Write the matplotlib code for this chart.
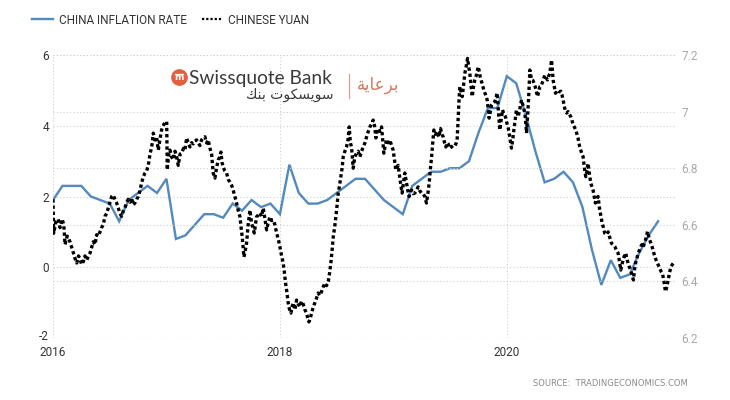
"""China inflation rate vs Chinese yuan, 2016 - mid 2021."""

import matplotlib
matplotlib.use("Agg")
import matplotlib.pyplot as plt
from matplotlib.lines import Line2D
from matplotlib.transforms import ScaledTranslation

# China CPI, % y/y, monthly from Jan 2016 to May 2021
inflation = [
    1.9, 2.3, 2.3, 2.3, 2.0, 1.9, 1.8, 1.3, 1.9, 2.1, 2.3, 2.1,
    2.5, 0.8, 0.9, 1.2, 1.5, 1.5, 1.4, 1.8, 1.6, 1.9, 1.7, 1.8,
    1.5, 2.9, 2.1, 1.8, 1.8, 1.9, 2.1, 2.3, 2.5, 2.5, 2.2, 1.9,
    1.7, 1.5, 2.3, 2.5, 2.7, 2.7, 2.8, 2.8, 3.0, 3.8, 4.5, 4.5,
    5.4, 5.2, 4.3, 3.3, 2.4, 2.5, 2.7, 2.4, 1.7, 0.5, -0.5, 0.2,
    -0.3, -0.2, 0.4, 0.9, 1.3,
]
infl_start = 2016.0

# USD/CNY (decimal year, rate)
yuan_t = [
    2016.000, 2016.006, 2016.025, 2016.045, 2016.062, 2016.080, 2016.095, 2016.106, 2016.125, 2016.150,
    2016.165, 2016.179, 2016.195, 2016.209, 2016.225, 2016.238, 2016.252, 2016.267, 2016.282, 2016.297,
    2016.312, 2016.326, 2016.340, 2016.355, 2016.370, 2016.385, 2016.400, 2016.414, 2016.428, 2016.443,
    2016.458, 2016.473, 2016.488, 2016.502, 2016.517, 2016.531, 2016.546, 2016.561, 2016.575, 2016.590,
    2016.605, 2016.620, 2016.634, 2016.650, 2016.663, 2016.680, 2016.693, 2016.707, 2016.722, 2016.737,
    2016.752, 2016.766, 2016.781, 2016.796, 2016.811, 2016.825, 2016.840, 2016.855, 2016.870, 2016.884,
    2016.898, 2016.913, 2016.928, 2016.942, 2016.957, 2016.972, 2016.987, 2017.002, 2017.007, 2017.020,
    2017.031, 2017.045, 2017.060, 2017.075, 2017.090, 2017.104, 2017.120, 2017.134, 2017.150, 2017.163,
    2017.178, 2017.192, 2017.207, 2017.222, 2017.236, 2017.250, 2017.266, 2017.280, 2017.295, 2017.310,
    2017.324, 2017.339, 2017.354, 2017.368, 2017.383, 2017.398, 2017.412, 2017.427, 2017.441, 2017.456,
    2017.470, 2017.480, 2017.490, 2017.500, 2017.515, 2017.530, 2017.545, 2017.559, 2017.574, 2017.588,
    2017.603, 2017.618, 2017.633, 2017.648, 2017.658, 2017.668, 2017.683, 2017.695, 2017.706, 2017.720,
    2017.736, 2017.750, 2017.762, 2017.774, 2017.784, 2017.794, 2017.810, 2017.824, 2017.838, 2017.853,
    2017.868, 2017.883, 2017.898, 2017.912, 2017.927, 2017.941, 2017.956, 2017.971, 2017.985, 2018.000,
    2018.015, 2018.029, 2018.040, 2018.050, 2018.062, 2018.073, 2018.085, 2018.097, 2018.107, 2018.117,
    2018.132, 2018.147, 2018.162, 2018.176, 2018.190, 2018.205, 2018.220, 2018.235, 2018.245, 2018.256,
    2018.268, 2018.279, 2018.294, 2018.308, 2018.322, 2018.337, 2018.352, 2018.367, 2018.381, 2018.396,
    2018.411, 2018.426, 2018.438, 2018.449, 2018.460, 2018.470, 2018.482, 2018.493, 2018.504, 2018.514,
    2018.526, 2018.537, 2018.548, 2018.558, 2018.573, 2018.587, 2018.600, 2018.611, 2018.621, 2018.631,
    2018.646, 2018.660, 2018.675, 2018.690, 2018.705, 2018.720, 2018.734, 2018.750, 2018.764, 2018.779,
    2018.793, 2018.808, 2018.822, 2018.834, 2018.846, 2018.856, 2018.866, 2018.881, 2018.896, 2018.906,
    2018.916, 2018.928, 2018.940, 2018.955, 2018.969, 2018.984, 2018.998, 2019.010, 2019.022, 2019.032,
    2019.042, 2019.052, 2019.063, 2019.070, 2019.077, 2019.090, 2019.101, 2019.116, 2019.128, 2019.139,
    2019.150, 2019.160, 2019.175, 2019.189, 2019.204, 2019.218, 2019.233, 2019.248, 2019.262, 2019.277,
    2019.292, 2019.304, 2019.316, 2019.327, 2019.337, 2019.347, 2019.357, 2019.372, 2019.386, 2019.401,
    2019.416, 2019.428, 2019.439, 2019.451, 2019.463, 2019.475, 2019.483, 2019.498, 2019.513, 2019.527,
    2019.542, 2019.555, 2019.562, 2019.568, 2019.574, 2019.580, 2019.586, 2019.597, 2019.607, 2019.618,
    2019.630, 2019.642, 2019.654, 2019.664, 2019.674, 2019.685, 2019.695, 2019.707, 2019.718, 2019.733,
    2019.748, 2019.758, 2019.768, 2019.782, 2019.797, 2019.812, 2019.827, 2019.836, 2019.844, 2019.855,
    2019.865, 2019.880, 2019.894, 2019.905, 2019.915, 2019.926, 2019.938, 2019.950, 2019.962, 2019.975,
    2019.988, 2020.000, 2020.011, 2020.026, 2020.041, 2020.052, 2020.062, 2020.073, 2020.085, 2020.100,
    2020.115, 2020.129, 2020.144, 2020.159, 2020.167, 2020.174, 2020.181, 2020.188, 2020.196, 2020.203,
    2020.218, 2020.230, 2020.241, 2020.256, 2020.270, 2020.281, 2020.291, 2020.301, 2020.311, 2020.323,
    2020.335, 2020.347, 2020.358, 2020.369, 2020.379, 2020.387, 2020.394, 2020.401, 2020.408, 2020.418,
    2020.429, 2020.440, 2020.452, 2020.464, 2020.476, 2020.486, 2020.496, 2020.506, 2020.517, 2020.528,
    2020.540, 2020.552, 2020.564, 2020.574, 2020.584, 2020.596, 2020.608, 2020.618, 2020.628, 2020.640,
    2020.652, 2020.662, 2020.672, 2020.684, 2020.696, 2020.706, 2020.716, 2020.728, 2020.740, 2020.750,
    2020.760, 2020.770, 2020.781, 2020.792, 2020.804, 2020.812, 2020.819, 2020.830, 2020.840, 2020.852,
    2020.863, 2020.878, 2020.893, 2020.908, 2020.922, 2020.937, 2020.952, 2020.966, 2020.981, 2020.993,
    2021.004, 2021.015, 2021.025, 2021.036, 2021.048, 2021.058, 2021.069, 2021.081, 2021.093, 2021.105,
    2021.116, 2021.125, 2021.134, 2021.146, 2021.157, 2021.169, 2021.181, 2021.191, 2021.201, 2021.212,
    2021.222, 2021.231, 2021.240, 2021.250, 2021.260, 2021.270, 2021.280, 2021.292, 2021.304, 2021.316,
    2021.328, 2021.338, 2021.348, 2021.360, 2021.372, 2021.385, 2021.398, 2021.410, 2021.422, 2021.434,
    2021.446, 2021.460, 2021.470, 2021.482,
]
yuan_v = [
    6.690, 6.570, 6.610, 6.620, 6.590, 6.620, 6.600, 6.530, 6.560, 6.540,
    6.520, 6.500, 6.480, 6.465, 6.490, 6.480, 6.460, 6.470, 6.490, 6.475,
    6.490, 6.500, 6.520, 6.540, 6.530, 6.565, 6.560, 6.575, 6.590, 6.600,
    6.630, 6.640, 6.660, 6.680, 6.700, 6.705, 6.690, 6.677, 6.660, 6.640,
    6.630, 6.650, 6.660, 6.680, 6.690, 6.680, 6.695, 6.670, 6.677, 6.690,
    6.700, 6.720, 6.748, 6.770, 6.783, 6.790, 6.810, 6.850, 6.875, 6.924,
    6.900, 6.910, 6.864, 6.900, 6.935, 6.950, 6.963, 6.965, 6.794, 6.850,
    6.864, 6.840, 6.830, 6.860, 6.840, 6.810, 6.850, 6.853, 6.870, 6.864,
    6.907, 6.890, 6.875, 6.890, 6.886, 6.895, 6.900, 6.890, 6.880, 6.900,
    6.907, 6.911, 6.889, 6.900, 6.871, 6.850, 6.783, 6.765, 6.800, 6.829,
    6.840, 6.857, 6.820, 6.804, 6.790, 6.783, 6.760, 6.751, 6.740, 6.723,
    6.700, 6.677, 6.650, 6.628, 6.590, 6.557, 6.486, 6.510, 6.535, 6.600,
    6.652, 6.606, 6.590, 6.571, 6.600, 6.628, 6.635, 6.642, 6.630, 6.659,
    6.620, 6.582, 6.610, 6.628, 6.615, 6.617, 6.600, 6.571, 6.550, 6.522,
    6.490, 6.465, 6.430, 6.394, 6.360, 6.324, 6.300, 6.288, 6.310, 6.324,
    6.300, 6.334, 6.320, 6.310, 6.330, 6.320, 6.300, 6.288, 6.270, 6.257,
    6.270, 6.288, 6.310, 6.324, 6.340, 6.359, 6.350, 6.364, 6.380, 6.394,
    6.385, 6.400, 6.430, 6.465, 6.510, 6.557, 6.590, 6.628, 6.670, 6.712,
    6.740, 6.769, 6.800, 6.840, 6.860, 6.875, 6.900, 6.946, 6.890, 6.875,
    6.800, 6.840, 6.853, 6.860, 6.840, 6.860, 6.875, 6.890, 6.911, 6.930,
    6.946, 6.955, 6.970, 6.950, 6.907, 6.930, 6.940, 6.930, 6.946, 6.900,
    6.853, 6.880, 6.900, 6.890, 6.900, 6.880, 6.864, 6.830, 6.794, 6.800,
    6.810, 6.780, 6.748, 6.730, 6.712, 6.750, 6.783, 6.748, 6.720, 6.700,
    6.715, 6.723, 6.710, 6.712, 6.720, 6.734, 6.720, 6.712, 6.710, 6.700,
    6.677, 6.710, 6.748, 6.800, 6.840, 6.890, 6.935, 6.920, 6.930, 6.910,
    6.940, 6.920, 6.911, 6.890, 6.875, 6.890, 6.886, 6.870, 6.875, 6.880,
    6.878, 6.890, 6.900, 6.950, 7.006, 7.050, 7.088, 7.070, 7.053, 7.090,
    7.135, 7.160, 7.188, 7.160, 7.135, 7.090, 7.053, 7.090, 7.112, 7.130,
    7.159, 7.140, 7.117, 7.100, 7.076, 7.060, 7.041, 7.010, 6.977, 7.000,
    7.023, 7.030, 7.035, 7.050, 7.066, 7.000, 6.935, 6.970, 7.006, 6.990,
    6.982, 6.960, 6.946, 6.910, 6.871, 6.900, 6.935, 6.970, 7.006, 6.982,
    7.010, 7.041, 7.020, 6.994, 6.960, 6.924, 6.970, 7.017, 7.080, 7.147,
    7.112, 7.110, 7.100, 7.080, 7.053, 7.070, 7.088, 7.090, 7.100, 7.115,
    7.129, 7.120, 7.112, 7.125, 7.135, 7.160, 7.182, 7.150, 7.112, 7.090,
    7.065, 7.070, 7.076, 7.070, 7.072, 7.060, 7.041, 7.020, 7.000, 6.995,
    7.000, 6.990, 6.982, 6.970, 6.953, 6.945, 6.935, 6.920, 6.906, 6.880,
    6.864, 6.850, 6.841, 6.800, 6.770, 6.790, 6.817, 6.780, 6.747, 6.735,
    6.723, 6.700, 6.677, 6.690, 6.700, 6.675, 6.652, 6.630, 6.606, 6.590,
    6.570, 6.565, 6.575, 6.555, 6.535, 6.530, 6.523, 6.510, 6.500, 6.470,
    6.440, 6.460, 6.476, 6.490, 6.500, 6.480, 6.464, 6.450, 6.440, 6.420,
    6.405, 6.440, 6.464, 6.480, 6.500, 6.510, 6.523, 6.530, 6.520, 6.535,
    6.546, 6.560, 6.576, 6.560, 6.546, 6.535, 6.523, 6.505, 6.488, 6.475,
    6.464, 6.455, 6.446, 6.435, 6.428, 6.400, 6.364, 6.380, 6.405, 6.430,
    6.452, 6.460, 6.465, 6.470,
]

left_ticks = [-2, 0, 2, 4, 6]
right_ticks = [6.2, 6.4, 6.6, 6.8, 7.0, 7.2]
right_labels = ["6.2", "6.4", "6.6", "6.8", "7", "7.2"]
year_ticks = [2016, 2018, 2020]

BLUE = "#5289be"
GRID = "#cfcfcf"
FONT = ["Roboto", "DejaVu Sans"]

plt.rcParams["font.family"] = FONT

infl_t = [infl_start + i / 12 for i in range(len(inflation))]

fig = plt.figure(figsize=(7.3, 4), dpi=100)
ax = fig.add_axes([53 / 730, 62 / 400, 624 / 730, 283 / 400])
ax2 = ax.twinx()

ax.plot(infl_t, inflation, color=BLUE, lw=1.7, solid_joinstyle="miter")
ax2.plot(yuan_t, yuan_v, color="black", lw=2.4, linestyle=(0, (1, 0.85)))

ax.set_xlim(2016.0, 2021.5)
ax.set_ylim(-2, 6)
ax2.set_ylim(6.2, 7.2)

ax.set_xticks(year_ticks)
ax.set_xticklabels([str(y) for y in year_ticks])
ax.set_yticks(left_ticks)
ax.set_yticklabels([str(v) for v in left_ticks])
ax2.set_yticks(right_ticks)
ax2.set_yticklabels(right_labels)

ax.tick_params(axis="both", length=0, labelsize=8.5, colors="#333333")
ax.tick_params(axis="x", pad=6)
ax.tick_params(axis="y", pad=3)
ax2.tick_params(axis="y", length=0, labelsize=8.5, colors="#a8a8a8", pad=3)

# nudge the bottom left label up a touch so it clears the first year label
lab = ax.get_yticklabels()[0]
lab.set_transform(lab.get_transform() + ScaledTranslation(0, 2.5 / 72, fig.dpi_scale_trans))

for a in (ax, ax2):
    for s in a.spines.values():
        s.set_visible(False)

grid_kw = dict(color=GRID, lw=0.8, linestyle=(0, (1, 2)))
ax.grid(True, axis="both", **grid_kw)
ax2.grid(True, axis="y", **grid_kw)
ax.set_axisbelow(True)

# legend
handles = [
    Line2D([], [], color=BLUE, lw=1.7),
    Line2D([], [], color="black", lw=1.6, linestyle=(0, (1, 0.9))),
]
fig.legend(handles, ["CHINA INFLATION RATE", "CHINESE YUAN"], loc="center left",
           bbox_to_anchor=(32 / 730, 1 - 20 / 400), ncol=2, frameon=False,
           fontsize=8.5, handlelength=1.75, handletextpad=0.5, columnspacing=1.3,
           borderpad=0, borderaxespad=0, labelcolor="#333333")

# sponsor logo
fig.add_artist(Line2D([179 / 730], [1 - 77 / 400], marker="o", markersize=11,
                      color="#e2603f", transform=fig.transFigure))
fig.text(179 / 730, 1 - 78 / 400, "m", color="white", fontsize=6.5, weight="bold",
         ha="center", va="center", family="DejaVu Sans")
fig.add_artist(Line2D([175 / 730, 183 / 730], [1 - 73.5 / 400] * 2, color="white",
                      lw=0.9, transform=fig.transFigure))
fig.text(189 / 730, 1 - 84 / 400, "Swissquote Bank", color="#3a3a3a", fontsize=13.8,
         family="Lato", va="baseline")
fig.text(334 / 730, 1 - 95 / 400,
         "\ufeda\ufee8\ufe91 \ufe95\ufeee\ufedc\ufeb4\ufef3\ufeee\ufeb3",
         color="#3a3a3a", fontsize=10, family="DejaVu Sans", ha="right", va="center")
fig.add_artist(Line2D([349 / 730] * 2, [1 - 74 / 400, 1 - 98 / 400], color="#c9a596",
                      lw=0.9, transform=fig.transFigure))
fig.text(357 / 730, 1 - 85 / 400, "\ufe94\ufef3\ufe8e\ufecb\ufeae\ufe91",
         color="#d27a60", fontsize=12, family="DejaVu Sans", ha="left", va="center")

fig.text(688 / 730, 1 - 383 / 400, "SOURCE:  TRADINGECONOMICS.COM", color="#8a8a8a",
         fontsize=6, family="DejaVu Sans", ha="right", va="center")

fig.savefig("out.png", dpi=100, facecolor="white")
